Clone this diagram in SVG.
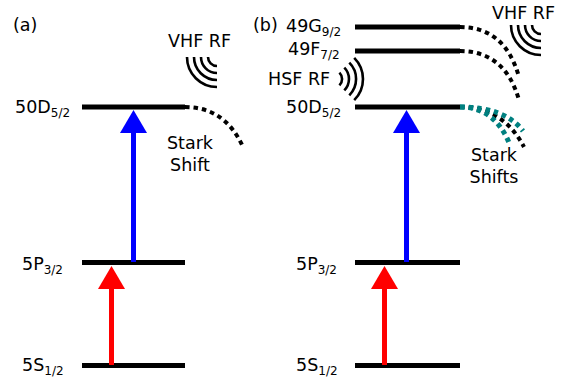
<svg xmlns="http://www.w3.org/2000/svg" width="569" height="381" viewBox="0 0 569 381">
<style>
text{font-family:"DejaVu Sans","Liberation Sans",sans-serif;font-size:17.5px;fill:#000}
.sub{font-size:12px}
.lvl{stroke:#000;stroke-width:5;fill:none}
.dot{fill:none;stroke:#000;stroke-width:4;stroke-dasharray:4.5 4}
.teal{fill:none;stroke:#008080;stroke-width:5;stroke-dasharray:4.5 4}
.wave{fill:none;stroke:#000;stroke-width:2.6}
</style>
<rect width="569" height="381" fill="#fff"/>
<text x="13" y="31">(a)</text>
<text x="253" y="31">(b)</text>

<g id="a-50D"><line class="lvl" x1="82" y1="107" x2="185" y2="107"/><text x="15" y="113">50D<tspan class="sub" dy="4">5/2</tspan></text></g>
<g id="a-5P"><line class="lvl" x1="82" y1="262.5" x2="185" y2="262.5"/><text x="22" y="269.5">5P<tspan class="sub" dy="4">3/2</tspan></text></g>
<g id="a-5S"><line class="lvl" x1="82" y1="365.5" x2="185" y2="365.5"/><text x="22" y="371">5S<tspan class="sub" dy="4">1/2</tspan></text></g>
<g id="a-vhf"><text x="168" y="47">VHF RF</text>
<path class="wave" d="M208,57 A9,9 0 0 0 217,66 M201,57 A16,16 0 0 0 217,73 M194,57 A23,23 0 0 0 217,80 M187,57 A30,30 0 0 0 217,87"/></g>
<g id="a-stark"><text x="190" y="149" text-anchor="middle">Stark</text><text x="190" y="171" text-anchor="middle">Shift</text></g>

<g id="b-49G"><line class="lvl" x1="355" y1="27" x2="460" y2="27"/><text x="286" y="32">49G<tspan class="sub" dy="4">9/2</tspan></text></g>
<g id="b-49F"><line class="lvl" x1="355" y1="51" x2="460" y2="51"/><text x="288" y="55">49F<tspan class="sub" dy="4">7/2</tspan></text></g>
<g id="b-50D"><line class="lvl" x1="355" y1="107" x2="460" y2="107"/><text x="286" y="113">50D<tspan class="sub" dy="4">5/2</tspan></text></g>
<g id="b-5P"><line class="lvl" x1="355" y1="262.5" x2="460" y2="262.5"/><text x="296" y="269.5">5P<tspan class="sub" dy="4">3/2</tspan></text></g>
<g id="b-5S"><line class="lvl" x1="355" y1="365.5" x2="460" y2="365.5"/><text x="296" y="371">5S<tspan class="sub" dy="4">1/2</tspan></text></g>
<g id="b-hsf"><text x="268" y="85">HSF RF</text>
<path class="wave" d="M339.4,72.6 A9,9 0 0 1 339.4,85.4 M344.3,67.7 A16,16 0 0 1 344.3,90.3 M349.3,62.7 A23,23 0 0 1 349.3,95.3 M354.2,57.8 A30,30 0 0 1 354.2,100.2"/></g>
<g id="b-vhf"><text x="492" y="19">VHF RF</text>
<path class="wave" d="M532,25 A9,9 0 0 0 541,34 M525,25 A16,16 0 0 0 541,41 M518,25 A23,23 0 0 0 541,48 M511,25 A30,30 0 0 0 541,55"/></g>
<g id="b-stark"><text x="494" y="161" text-anchor="middle">Stark</text><text x="494" y="183" text-anchor="middle">Shifts</text></g>

<g id="connectors">
<path class="dot" d="M185,107 Q225,107 243,147"/>
<path class="dot" d="M460,27 Q505,27 519,77"/>
<path class="dot" d="M460,51 Q505,51 519,100"/>
<path class="dot" d="M460,107 Q503,107 524,147"/>
<path class="teal" d="M460,107 Q505,107 523,131"/>
<path class="teal" d="M460,107 Q495,107 510,145"/>
<line x1="133.5" y1="262" x2="133.5" y2="131" stroke="#00f" stroke-width="5"/>
<polygon points="120,133 147,133 133.5,110" fill="#00f"/>
<line x1="111.5" y1="365" x2="111.5" y2="287" stroke="#f00" stroke-width="5"/>
<polygon points="98,289 125,289 111.5,266" fill="#f00"/>
<line x1="406.5" y1="262" x2="406.5" y2="131" stroke="#00f" stroke-width="5"/>
<polygon points="393,133 420,133 406.5,110" fill="#00f"/>
<line x1="384.5" y1="365" x2="384.5" y2="287" stroke="#f00" stroke-width="5"/>
<polygon points="371,289 398,289 384.5,266" fill="#f00"/>
</g>
</svg>
